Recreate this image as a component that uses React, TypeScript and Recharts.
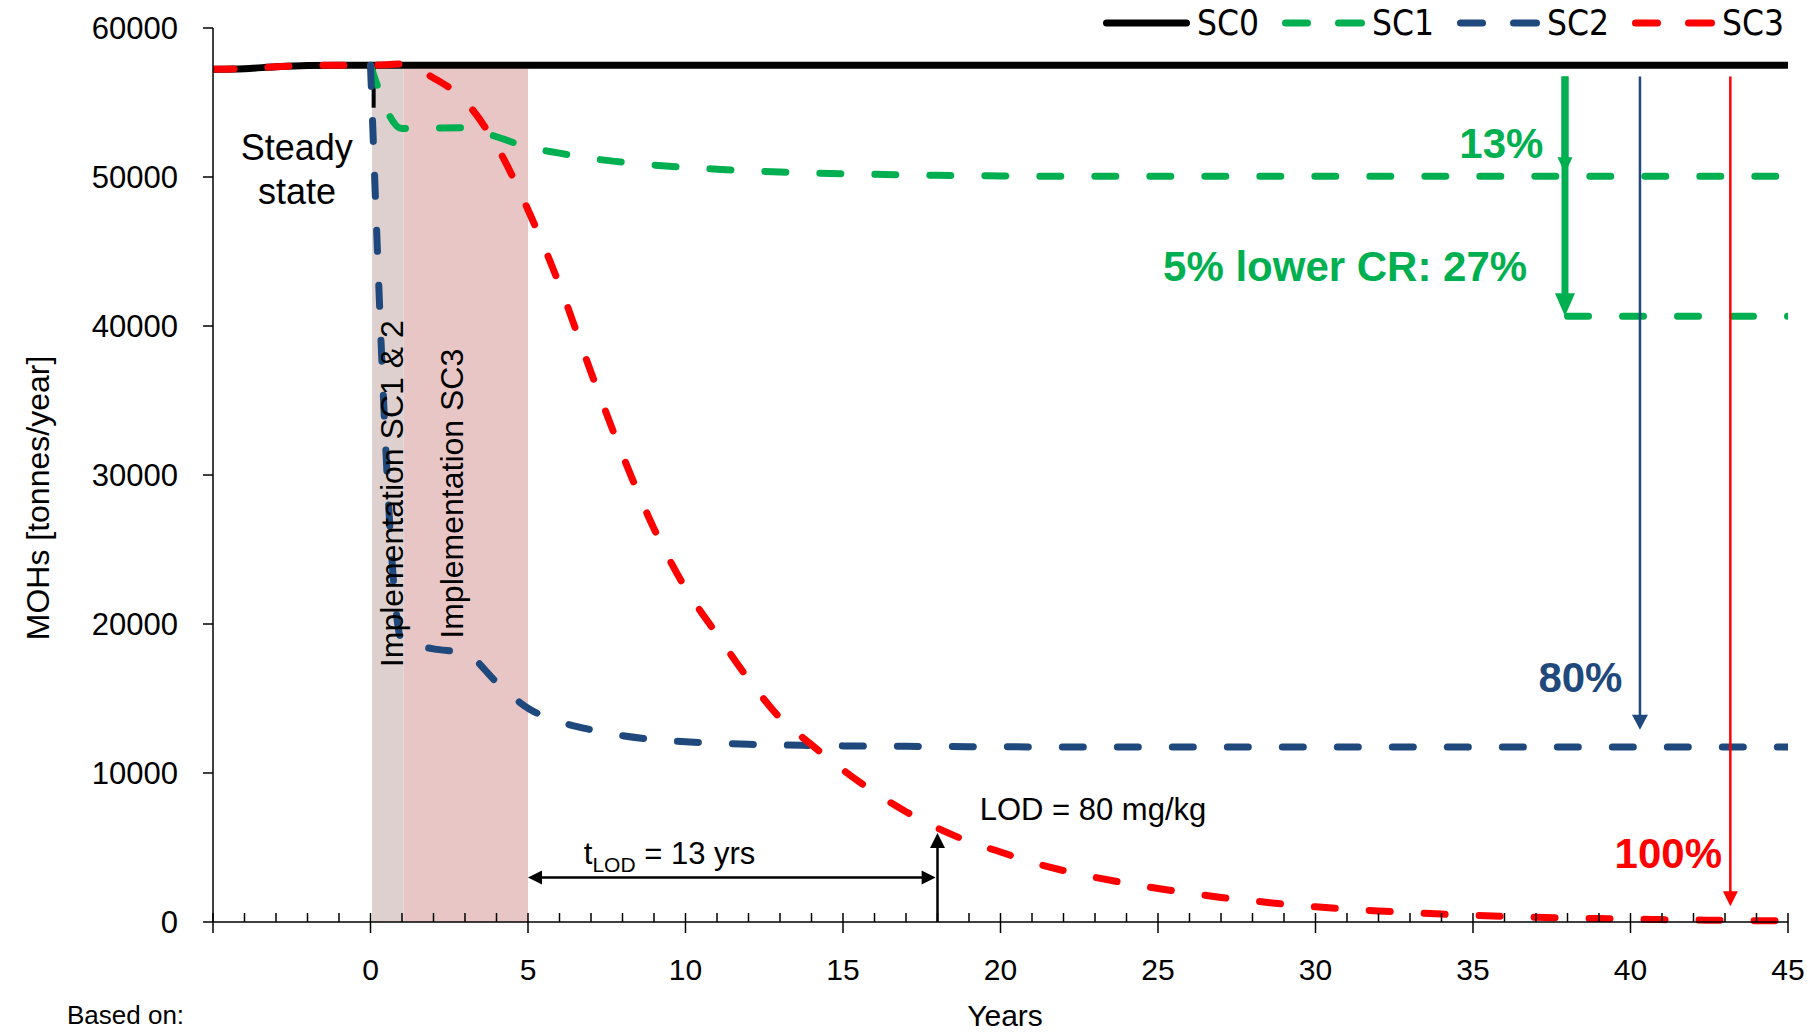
import React from 'react'
import {
  LineChart,
  Line,
  XAxis,
  YAxis,
  ReferenceArea,
  ReferenceLine,
  ReferenceDot,
  Legend,
  Label,
} from 'recharts'

const years = [
  -5, -4, -3, -2, -1, 0, 1, 2, 3, 4, 5, 6, 7, 8, 9, 10, 11, 12, 13, 14, 15, 16, 17, 18, 19, 20, 21, 22, 23, 24,
  25, 26, 27, 28, 29, 30, 31, 32, 33, 34, 35, 36, 37, 38, 39, 40, 41, 42, 43, 44, 45,
]

// SC0: no measures
const sc0 = [
  57230, 57270, 57400, 57480, 57500,
  57500, 57500, 57500, 57500, 57500, 57500, 57500, 57500, 57500, 57500,
  57500, 57500, 57500, 57500, 57500, 57500, 57500, 57500, 57500, 57500,
  57500, 57500, 57500, 57500, 57500, 57500, 57500, 57500, 57500, 57500,
  57500, 57500, 57500, 57500, 57500, 57500, 57500, 57500, 57500, 57500,
  57500, 57500, 57500, 57500, 57500, 57500,
]

const sc1 = [
  null, null, null, null, null,
  57500, 53250, 53280, 53300, 52700, 52000, 51600, 51250, 51000, 50800,
  50650, 50520, 50420, 50340, 50270, 50220, 50180, 50140, 50110, 50090,
  50070, 50060, 50050, 50050, 50050, 50050, 50050, 50050, 50050, 50050,
  50050, 50050, 50050, 50050, 50050, 50050, 50050, 50050, 50050, 50050,
  50050, 50050, 50050, 50050, 50050, 50050,
]

const sc2 = [
  null, null, null, null, null,
  57500, 18850, 18330, 18050, 16100, 14350, 13450, 12900, 12500, 12250,
  12100, 12000, 11930, 11880, 11850, 11820, 11800, 11790, 11780, 11770,
  11760, 11750, 11750, 11750, 11750, 11750, 11750, 11750, 11750, 11750,
  11750, 11750, 11750, 11750, 11750, 11750, 11750, 11750, 11750, 11750,
  11750, 11750, 11750, 11750, 11750, 11750,
]

const sc3 = [
  57230, 57270, 57400, 57480, 57500,
  57500, 57580, 56650, 55100, 52100, 47800, 42750, 36900, 31350, 26400,
  22400, 19300, 16300, 13700, 11900, 10200, 8700, 7400, 6300, 5400,
  4700, 4000, 3450, 3000, 2600, 2250, 1950, 1650, 1420, 1200,
  1020, 870, 740, 630, 530, 450, 380, 320, 270, 230,
  190, 160, 130, 110, 90, 70,
]

// SC1 with a 5% lower collection rate (end state only)
const sc1LowYears = [38, 39, 40, 41, 42, 43, 44, 45]
const sc1LowValues = [40650, 40650, 40650, 40650, 40650, 40650, 40650, 40650]

const yTicks = [0, 10000, 20000, 30000, 40000, 50000, 60000]

const rows = years.map((x, i) => ({ x, sc0: sc0[i], sc1: sc1[i], sc2: sc2[i], sc3: sc3[i] }))
const sc1LowRows = sc1LowYears.map((x, i) => ({ x, sc1Low: sc1LowValues[i] }))

const GREEN = '#00b050'
const BLUE = '#1f497d'
const RED = '#ff0000'
const ARIAL = "'Liberation Sans', Arial, sans-serif"
const NARROW = "'Liberation Sans Narrow', 'DejaVu Sans Condensed', 'Liberation Sans', sans-serif"
const DASH = '21 34'

type ArrowOpts = { color: string; width: number; head: number; half: number; both?: boolean }

function arrowShape(o: ArrowOpts) {
  return (p: any) => {
    const { x1, y1, x2, y2 } = p
    const len = Math.hypot(x2 - x1, y2 - y1) || 1
    const ux = (x2 - x1) / len
    const uy = (y2 - y1) / len
    const head = (tx: number, ty: number, dx: number, dy: number) => {
      const bx = tx - dx * o.head
      const by = ty - dy * o.head
      const px = -dy * o.half
      const py = dx * o.half
      return `${tx},${ty} ${bx + px},${by + py} ${bx - px},${by - py}`
    }
    const sx = o.both ? x1 + ux * (o.head - 2) : x1
    const sy = o.both ? y1 + uy * (o.head - 2) : y1
    return (
      <g>
        <line
          x1={sx}
          y1={sy}
          x2={x2 - ux * (o.head - 2)}
          y2={y2 - uy * (o.head - 2)}
          stroke={o.color}
          strokeWidth={o.width}
        />
        <polygon points={head(x2, y2, ux, uy)} fill={o.color} />
        {o.both && <polygon points={head(x1, y1, -ux, -uy)} fill={o.color} />}
      </g>
    )
  }
}

type TextOpts = {
  color?: string
  size: number
  bold?: boolean
  anchor?: 'start' | 'middle' | 'end'
  rotate?: boolean
  central?: boolean
}

function textShape(content: React.ReactNode, o: TextOpts) {
  return (p: any) => (
    <text
      x={p.cx}
      y={p.cy}
      fill={o.color ?? '#000'}
      fontSize={o.size}
      fontWeight={o.bold ? 700 : 400}
      fontFamily={ARIAL}
      textAnchor={o.anchor ?? 'middle'}
      dominantBaseline={o.central ? 'central' : 'auto'}
      transform={o.rotate ? `rotate(-90 ${p.cx} ${p.cy})` : undefined}
    >
      {content}
    </text>
  )
}

function XTick(props: any) {
  const { x, y, payload } = props
  const v = payload.value as number
  const major = v % 5 === 0
  return (
    <g>
      <line x1={x} x2={x} y1={y - 9} y2={major ? y + 11 : y} stroke="#000" strokeWidth={1.5} />
      {major && v >= 0 && (
        <text x={x} y={y + 58} textAnchor="middle" fontSize={30} fontFamily={ARIAL} fill="#000">
          {v}
        </text>
      )}
    </g>
  )
}

function LegendRow(props: any) {
  const items = (props.payload || []).filter((e: any) => e.type !== 'none')
  return (
    <div style={{ display: 'flex', alignItems: 'center', fontFamily: NARROW, fontSize: 35, color: '#000', lineHeight: '40px' }}>
      {items.map((e: any) => {
        const dashed = !!e.payload?.strokeDasharray
        return (
          <div key={e.value} style={{ display: 'flex', alignItems: 'center', marginRight: 23 }}>
            {dashed ? (
              <svg width={83} height={14}>
                <line x1={3.5} x2={25.5} y1={7} y2={7} stroke={e.color} strokeWidth={7} strokeLinecap="round" />
                <line x1={56.5} x2={79.5} y1={7} y2={7} stroke={e.color} strokeWidth={7} strokeLinecap="round" />
              </svg>
            ) : (
              <svg width={87} height={14}>
                <line x1={3.5} x2={83.5} y1={7} y2={7} stroke={e.color} strokeWidth={7} strokeLinecap="round" />
              </svg>
            )}
            <span style={{ marginLeft: 7 }}>{e.value}</span>
          </div>
        )
      })}
    </div>
  )
}

export default function App() {
  return (
    <div style={{ position: 'absolute', left: 0, top: 0, width: 1807, height: 1033, background: '#fff' }}>
      <LineChart width={1807} height={1033} data={rows} margin={{ top: 28, right: 19, bottom: 0, left: 0 }}>
        <XAxis
          dataKey="x"
          type="number"
          domain={[-5, 45]}
          ticks={years}
          interval={0}
          allowDataOverflow
          height={111}
          tickLine={false}
          tickSize={0}
          tickMargin={0}
          tick={<XTick />}
          axisLine={{ stroke: '#000', strokeWidth: 1.5 }}
        >
          <Label
            content={() => (
              <g>
                <text x={1005} y={1026} textAnchor="middle" fontSize={30} fontFamily={ARIAL} fill="#000">
                  Years
                </text>
                <text x={67} y={1024} textAnchor="start" fontSize={26} fontFamily={ARIAL} fill="#000">
                  Based on:
                </text>
              </g>
            )}
          />
        </XAxis>
        <YAxis
          type="number"
          domain={[0, 60000]}
          ticks={yTicks}
          interval={0}
          width={213}
          tickSize={10}
          tickMargin={25}
          tickLine={{ stroke: '#000', strokeWidth: 1.5 }}
          axisLine={{ stroke: '#000', strokeWidth: 1.5 }}
          tick={{ fill: '#000', fontSize: 31, fontFamily: ARIAL }}
        >
          <Label
            content={() => (
              <text
                x={38}
                y={498}
                transform="rotate(-90 38 498)"
                textAnchor="middle"
                dominantBaseline="central"
                fontSize={32}
                fontFamily={ARIAL}
                fill="#000"
              >
                MOHs [tonnes/year]
              </text>
            )}
          />
        </YAxis>

        <Legend
          layout="horizontal"
          verticalAlign="middle"
          align="center"
          wrapperStyle={{ top: 3, left: 1103, width: 704, height: 40 }}
          content={<LegendRow />}
        />

        <ReferenceArea x1={0.05} x2={1.05} y1={0} y2={57300} fill="#ddd0cf" fillOpacity={1} stroke="none" />
        <ReferenceArea x1={1.05} x2={5} y1={0} y2={57300} fill="#e8c6c6" fillOpacity={1} stroke="none" />

        <ReferenceDot
          x={0.67}
          y={28745}
          r={0}
          fill="none"
          stroke="none"
          shape={textShape('Implementation SC1 & 2', { size: 32, rotate: true, central: true })}
        />
        <ReferenceDot
          x={2.58}
          y={28745}
          r={0}
          fill="none"
          stroke="none"
          shape={textShape('Implementation SC3', { size: 32, rotate: true, central: true })}
        />
        <ReferenceDot
          x={-2.34}
          y={51160}
          r={0}
          fill="none"
          stroke="none"
          shape={textShape(
            <>
              <tspan>Steady</tspan>
              <tspan x={297} dy={44}>
                state
              </tspan>
            </>,
            { size: 36 },
          )}
        />

        <ReferenceLine
          segment={[
            { x: 0.1, y: 57500 },
            { x: 0.1, y: 54650 },
          ]}
          stroke="#000"
          strokeWidth={4}
        />

        <Line dataKey="sc0" name="SC0" stroke="#000" strokeWidth={7} dot={false} activeDot={false} type="monotone" isAnimationActive={false} />
        <Line
          dataKey="sc1"
          name="SC1"
          stroke={GREEN}
          strokeWidth={7}
          strokeDasharray={DASH}
          strokeLinecap="round"
          dot={false}
          activeDot={false}
          type="monotone"
          isAnimationActive={false}
        />
        <Line
          data={sc1LowRows}
          dataKey="sc1Low"
          name="SC1 low CR"
          legendType="none"
          stroke={GREEN}
          strokeWidth={7}
          strokeDasharray={DASH}
          strokeLinecap="round"
          dot={false}
          activeDot={false}
          type="linear"
          isAnimationActive={false}
        />
        <Line
          dataKey="sc2"
          name="SC2"
          stroke={BLUE}
          strokeWidth={7}
          strokeDasharray={DASH}
          strokeLinecap="round"
          dot={false}
          activeDot={false}
          type="monotone"
          isAnimationActive={false}
        />
        <Line
          dataKey="sc3"
          name="SC3"
          stroke={RED}
          strokeWidth={7}
          strokeDasharray={DASH}
          strokeLinecap="round"
          dot={false}
          activeDot={false}
          type="monotone"
          isAnimationActive={false}
        />

        <ReferenceLine
          segment={[
            { x: 37.92, y: 56750 },
            { x: 37.92, y: 40650 },
          ]}
          shape={arrowShape({ color: GREEN, width: 7, head: 23, half: 10 })}
        />
        <ReferenceLine
          segment={[
            { x: 37.92, y: 56750 },
            { x: 37.92, y: 50250 },
          ]}
          shape={arrowShape({ color: GREEN, width: 7, head: 16, half: 7.5 })}
        />
        <ReferenceLine
          segment={[
            { x: 40.3, y: 56750 },
            { x: 40.3, y: 12900 },
          ]}
          shape={arrowShape({ color: BLUE, width: 2.5, head: 15, half: 8 })}
        />
        <ReferenceLine
          segment={[
            { x: 43.17, y: 56750 },
            { x: 43.17, y: 1050 },
          ]}
          shape={arrowShape({ color: RED, width: 2.5, head: 15, half: 7.5 })}
        />
        <ReferenceLine
          segment={[
            { x: 18, y: 0 },
            { x: 18, y: 5970 },
          ]}
          shape={arrowShape({ color: '#000', width: 2.5, head: 15, half: 7.5 })}
        />
        <ReferenceLine
          segment={[
            { x: 5, y: 2990 },
            { x: 17.94, y: 2990 },
          ]}
          shape={arrowShape({ color: '#000', width: 2.5, head: 14, half: 7, both: true })}
        />

        <ReferenceDot x={35.9} y={52235} r={0} fill="none" stroke="none" shape={textShape('13%', { size: 42, bold: true, color: GREEN, central: true })} />
        <ReferenceDot
          x={30.94}
          y={43980}
          r={0}
          fill="none"
          stroke="none"
          shape={textShape('5% lower CR: 27%', { size: 42, bold: true, color: GREEN, central: true })}
        />
        <ReferenceDot x={38.41} y={16430} r={0} fill="none" stroke="none" shape={textShape('80%', { size: 42, bold: true, color: BLUE, central: true })} />
        <ReferenceDot x={41.2} y={4580} r={0} fill="none" stroke="none" shape={textShape('100%', { size: 42, bold: true, color: RED, central: true })} />
        <ReferenceDot
          x={19.34}
          y={6866}
          r={0}
          fill="none"
          stroke="none"
          shape={textShape('LOD = 80 mg/kg', { size: 31, anchor: 'start' })}
        />
        <ReferenceDot
          x={6.77}
          y={3910}
          r={0}
          fill="none"
          stroke="none"
          shape={textShape(
            <>
              <tspan>t</tspan>
              <tspan fontSize={21} dy={8}>
                LOD
              </tspan>
              <tspan dy={-8}> = 13 yrs</tspan>
            </>,
            { size: 31, anchor: 'start' },
          )}
        />
      </LineChart>
    </div>
  )
}
